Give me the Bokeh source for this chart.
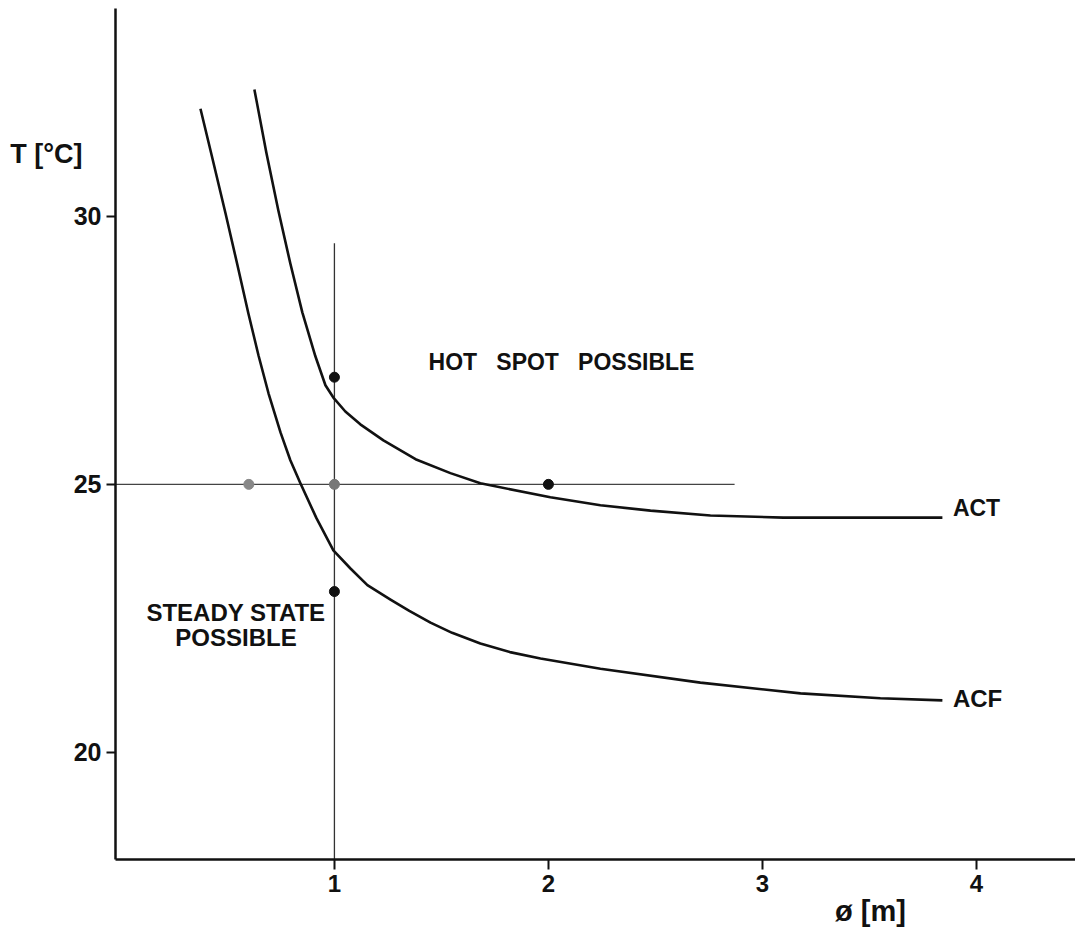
from bokeh.plotting import figure
from bokeh.models import Range1d, FixedTicker, Label, ColumnDataSource, LinearAxis
from bokeh.embed import file_html
from bokeh.resources import INLINE

# ---- data ----
acf_x = [0.374, 0.430, 0.491, 0.547, 0.598, 0.645, 0.692, 0.748, 0.794, 0.841, 0.916, 0.995,
         1.075, 1.154, 1.262, 1.350, 1.449, 1.550, 1.682, 1.820, 1.963, 2.243, 2.710, 3.178, 3.551, 3.841]
acf_t = [32.01, 31.08, 30.06, 29.09, 28.19, 27.41, 26.70, 25.97, 25.45, 25.02, 24.37, 23.77,
         23.43, 23.12, 22.85, 22.64, 22.42, 22.23, 22.03, 21.87, 21.75, 21.56, 21.30, 21.10, 21.01, 20.97]

act_x = [0.626, 0.682, 0.738, 0.794, 0.850, 0.911, 0.958, 0.995, 1.051, 1.121, 1.229, 1.379,
         1.542, 1.682, 2.009, 2.243, 2.477, 2.757, 3.098, 3.458, 3.841]
act_t = [32.37, 31.19, 30.11, 29.12, 28.21, 27.39, 26.85, 26.62, 26.36, 26.12, 25.82, 25.47,
         25.21, 25.02, 24.76, 24.61, 24.51, 24.42, 24.38, 24.38, 24.38]

pts_x = [1.0, 1.0, 1.0, 0.6, 2.0]
pts_t = [27.0, 25.0, 23.0, 25.0, 25.0]
pts_c = ["#111111", "#777777", "#111111", "#888888", "#111111"]

x_ticks = [1, 2, 3, 4]
y_ticks = [20, 25, 30]

x_title = "ø [m]"
x_title_pos = 3.505
y_title = "T [°C]"
y_title_pos = 31.16

vline_x = 1.0
vline_top = 29.5
hline_t = 25.0
hline_end = 2.87

x_min, x_max = -0.023, 4.463
t_min, t_max = 18.0, 33.88

FONT = "Liberation Sans"
NB = "\u00a0"

p = figure(width=1075, height=934, output_backend="svg", toolbar_location=None,
           x_range=Range1d(x_min, x_max), y_range=Range1d(t_min, t_max),
           min_border_left=115, min_border_right=0, min_border_top=8, min_border_bottom=75)
p.outline_line_color = None
p.xgrid.visible = False
p.ygrid.visible = False
p.background_fill_color = "white"
p.border_fill_color = "white"

for ax in (p.xaxis[0], p.yaxis[0]):
    ax.axis_line_width = 2.5
    ax.axis_line_color = "#111111"
    ax.major_tick_line_color = "#111111"
    ax.major_tick_line_width = 2
    ax.major_tick_in = 0
    ax.minor_tick_line_color = None
    ax.major_label_text_font = FONT
    ax.major_label_text_font_style = "bold"
    ax.major_label_text_color = "#111111"

p.xaxis[0].ticker = FixedTicker(ticks=x_ticks)
p.yaxis[0].ticker = FixedTicker(ticks=y_ticks)
p.xaxis[0].major_tick_out = 10
p.yaxis[0].major_tick_out = 9
p.xaxis[0].major_label_text_font_size = "24px"
p.yaxis[0].major_label_text_font_size = "25px"
p.xaxis[0].major_label_standoff = 5
p.yaxis[0].major_label_standoff = 5

# axis titles as label-only extra axes (outside the frame, never clipped)
def title_axis(pos, text, size, standoff):
    ax = LinearAxis(ticker=FixedTicker(ticks=[pos]), major_label_overrides={pos: text},
                    axis_line_color=None, major_tick_line_color=None, minor_tick_line_color=None,
                    major_tick_in=0, major_tick_out=0, major_label_standoff=standoff,
                    major_label_text_font=FONT, major_label_text_font_style="bold",
                    major_label_text_font_size=size, major_label_text_color="#111111")
    return ax

p.add_layout(title_axis(y_title_pos, y_title, "27px", -12), "left")
p.add_layout(title_axis(x_title_pos, x_title, "29px", 0), "below")

# guide lines
p.line([vline_x, vline_x], [t_min, vline_top], line_color="#333333", line_width=1.3)
p.line([x_min, hline_end], [hline_t, hline_t], line_color="#444444", line_width=1.3)

# curves
p.line(acf_x, acf_t, line_color="#111111", line_width=2.6, line_join="round")
p.line(act_x, act_t, line_color="#111111", line_width=2.6, line_join="round")

# points
src = ColumnDataSource(dict(x=pts_x, y=pts_t, c=pts_c))
p.scatter("x", "y", source=src, size=10, fill_color="c", line_color="c")

def lab(x, y, text, size, align="left", baseline="middle", style="bold"):
    p.add_layout(Label(x=x, y=y, text=text,
                       text_font=FONT, text_font_style=style, text_font_size=size,
                       text_align=align, text_baseline=baseline, text_color="#111111"))

lab(1.44, 27.28, "HOT" + NB * 3 + "SPOT" + NB * 3 + "POSSIBLE", "23px")
lab(0.54, 22.6, "STEADY STATE", "24px", align="center")
lab(0.54, 22.15, "POSSIBLE", "24px", align="center")
lab(3.89, 24.56, "ACT", "23px")
lab(3.89, 21.0, "ACF", "24px")

open("out.html", "w").write(file_html(p, INLINE))
